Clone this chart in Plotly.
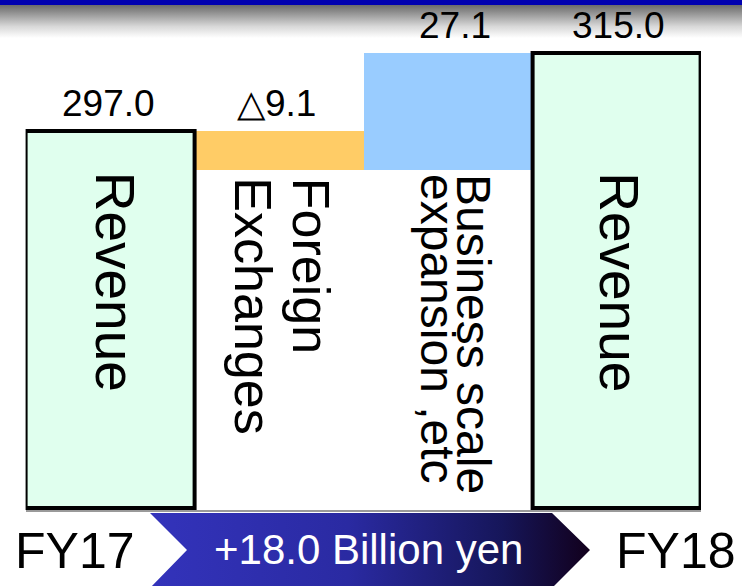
import plotly.graph_objects as go

# ---- data -------------------------------------------------------------
steps = ["FY17 Revenue", "Foreign Exchanges", "Business scale expansion", "FY18 Revenue"]
measures = ["total", "relative", "relative", "total"]
values = [297.0, -9.1, 27.1, 315.0]
inner_labels = [["Revenue"], ["Foreign", "Exchanges"],
                ["Business scale", "expansion ,etc"], ["Revenue"]]
period_labels = ["FY17", "FY18"]
change_label = "+18.0 Billion yen"

# ---- styling ------------------------------------------------------------
W, H = 742, 586
FLOOR = 209.4                      # where the total columns start
Y_RANGE = [208.95, 327.28]
PLOT_LEFT, PLOT_RIGHT, PLOT_BOTTOM = 25.6, 701.0, 510.0

TOTAL_FILL = "#E0FFEE"
DOWN_FILL = "#FFCC66"
UP_FILL = "#99CCFF"
SANS = "Liberation Sans, Arial, sans-serif"

inner_sizes = [55, 52, 48, 55]
inner_line_offsets = [[5], [32, -26], [26, -10], [3]]
inner_yshift = [0, -6, -2, 0]
value_xshift = [-2, -2, 7, 2]

# ---- waterfall geometry from the values --------------------------------
bases, heights, tops, kinds = [], [], [], []
level = None
for m, v in zip(measures, values):
    if m == "total":
        bases.append(FLOOR)
        heights.append(v - FLOOR)
        tops.append(v)
        level = v
        kinds.append("total")
    else:
        new = level + v
        bases.append(min(level, new))
        heights.append(abs(v))
        tops.append(max(level, new))
        level = new
        kinds.append("down" if v < 0 else "up")

after_fx = values[0] + values[1]

fig = go.Figure()

# change bars (drawn first so the outlined totals sit on top)
fig.add_trace(go.Bar(
    x=steps,
    y=[h if k != "total" else None for h, k in zip(heights, kinds)],
    base=[b if k != "total" else None for b, k in zip(bases, kinds)],
    marker=dict(color=[DOWN_FILL if k == "down" else UP_FILL for k in kinds],
                line=dict(width=0)),
    width=1.0,
    hoverinfo="skip",
))

# total columns
fig.add_trace(go.Bar(
    x=steps,
    y=[h if k == "total" else None for h, k in zip(heights, kinds)],
    base=[b if k == "total" else None for b, k in zip(bases, kinds)],
    marker=dict(color=TOTAL_FILL, line=dict(color="#000000", width=4)),
    width=1.0,
    hoverinfo="skip",
))

# ---- decorations on a full-page pixel subplot (banner, chevron) ---------
# gray fade under the title banner
fig.add_trace(go.Scatter(
    x=[0, W, W, 0, 0], y=[5, 5, 38, 38, 5],
    xaxis="x2", yaxis="y2", mode="lines", line=dict(width=0),
    fill="toself",
    fillgradient=dict(type="vertical",
                      colorscale=[[0, "#ffffff"], [0.35, "#d8d8d8"], [1, "#6a6a6a"]]),
    hoverinfo="skip", showlegend=False,
))
# chevron carrying the year-on-year change
fig.add_trace(go.Scatter(
    x=[150, 552, 590, 552, 150, 187, 150],
    y=[513, 513, 550, 588, 588, 550, 513],
    xaxis="x2", yaxis="y2", mode="lines", line=dict(width=0),
    fill="toself",
    fillgradient=dict(type="horizontal",
                      colorscale=[[0, "#3333BB"], [0.45, "#2A2AA2"],
                                  [0.8, "#16165A"], [1, "#12001C"]]),
    hoverinfo="skip", showlegend=False,
))

annotations = []

# value labels above each column
for s, v, t, k, dx in zip(steps, values, tops, kinds, value_xshift):
    txt = f"△{abs(v):.1f}" if k == "down" else f"{v:.1f}"
    annotations.append(dict(
        x=s, y=t, xref="x", yref="y", text=txt, showarrow=False,
        xanchor="center", yanchor="bottom", yshift=5, xshift=dx,
        font=dict(family=SANS, size=37, color="#000000"),
    ))

# vertical captions inside / below the columns
for s, lines, fs, offs, dy in zip(steps, inner_labels, inner_sizes,
                                  inner_line_offsets, inner_yshift):
    for line, dx in zip(lines, offs):
        annotations.append(dict(
            x=s, y=after_fx, xref="x", yref="y", text=line, showarrow=False,
            textangle=90, xanchor="center", yanchor="top",
            xshift=dx, yshift=dy,
            font=dict(family=SANS, size=fs, color="#000000"),
        ))

# period labels and the change text
annotations += [
    dict(x=75 / W, y=1 - 551 / H, xref="paper", yref="paper", text=period_labels[0],
         showarrow=False, xanchor="center", yanchor="middle",
         font=dict(family=SANS, size=50, color="#000000")),
    dict(x=676 / W, y=1 - 551 / H, xref="paper", yref="paper", text=period_labels[1],
         showarrow=False, xanchor="center", yanchor="middle",
         font=dict(family=SANS, size=50, color="#000000")),
    dict(x=368 / W, y=1 - 549 / H, xref="paper", yref="paper", text=change_label,
         showarrow=False, xanchor="center", yanchor="middle",
         font=dict(family=SANS, size=42, color="#ffffff")),
]

fig.update_layout(
    width=W, height=H,
    margin=dict(l=0, r=0, t=0, b=0),
    paper_bgcolor="#ffffff", plot_bgcolor="rgba(0,0,0,0)",
    barmode="overlay", bargap=0,
    showlegend=False,
    xaxis=dict(domain=[PLOT_LEFT / W, PLOT_RIGHT / W], range=[-0.5, 3.5],
               showticklabels=False, ticks="", showgrid=False, zeroline=False,
               showline=True, linecolor="#9a9a9a", linewidth=2, layer="below traces",
               fixedrange=True),
    yaxis=dict(domain=[1 - PLOT_BOTTOM / H, 1], range=Y_RANGE,
               showticklabels=False, ticks="", showgrid=False, zeroline=False,
               showline=False, fixedrange=True),
    xaxis2=dict(domain=[0, 1], range=[0, W], anchor="y2",
                visible=False, fixedrange=True),
    yaxis2=dict(domain=[0, 1], range=[H, 0], anchor="x2",
                visible=False, fixedrange=True),
    shapes=[dict(type="rect", xref="paper", yref="paper",
                 x0=0, x1=1, y0=1 - 5 / H, y1=1,
                 fillcolor="#0000B0", line=dict(width=0), layer="above")],
    annotations=annotations,
)

fig.write_html("out.html", config={"displayModeBar": False})
